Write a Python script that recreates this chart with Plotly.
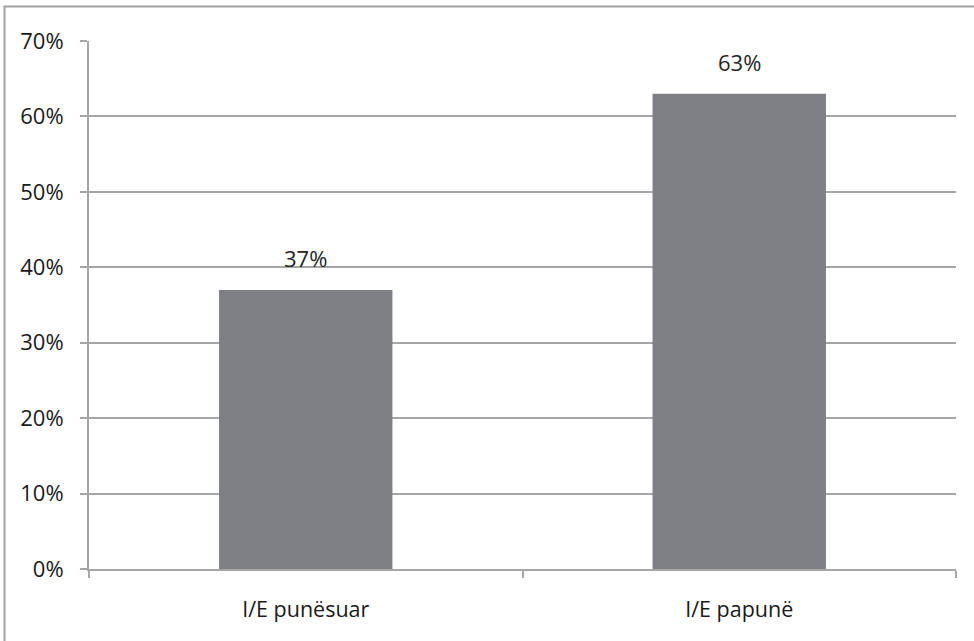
import plotly.graph_objects as go

categories = ["I/E punësuar", "I/E papunë"]
values = [0.37, 0.63]
value_labels = ["37%", "63%"]

W, H = 974, 641
L, R, T, B = 89, 18, 41, 72
pw, ph = W - L - R, H - T - B

grid = "#a6a6a6"
fontfam = "Open Sans, Lato, sans-serif"

fig = go.Figure(go.Bar(x=categories, y=values, marker=dict(color="#7f8084", line=dict(width=0)), width=0.4))

for c, v, t in zip(categories, values, value_labels):
    fig.add_annotation(x=c, y=v, text=t, showarrow=False, yshift=32,
                       font=dict(size=22, color="#262626", family=fontfam))

def px2x(p):
    return (p - L) / pw

def px2y(p):
    return (H - B - p) / ph

fig.add_shape(type="rect", xref="paper", yref="paper",
              x0=px2x(4.5), x1=px2x(976), y0=px2y(644), y1=px2y(6.5),
              line=dict(color="#a0a0a0", width=2), fillcolor="rgba(0,0,0,0)", layer="below")

fig.update_layout(
    width=W, height=H,
    margin=dict(l=L, r=R, t=T, b=B),
    paper_bgcolor="white", plot_bgcolor="white",
    showlegend=False,
    font=dict(family=fontfam, color="#1a1a1a", size=20),
    xaxis=dict(showgrid=False, showline=True, linecolor=grid, linewidth=2,
               ticks="outside", tickson="boundaries", ticklen=7, tickcolor=grid, tickwidth=1.5,
               ticklabelstandoff=20, tickfont=dict(size=21.5)),
    yaxis=dict(range=[0, 0.7], dtick=0.1, tickformat=".0%", showgrid=True, gridcolor=grid, gridwidth=2,
               showline=True, linecolor=grid, linewidth=2, zeroline=False,
               ticks="outside", ticklen=7, tickcolor=grid, tickwidth=1.5,
               ticklabelstandoff=12, tickfont=dict(size=22)),
)

fig.write_html("out.html", config={"displayModeBar": False},
               post_script="document.body.style.margin='0';document.body.style.overflow='hidden';")
